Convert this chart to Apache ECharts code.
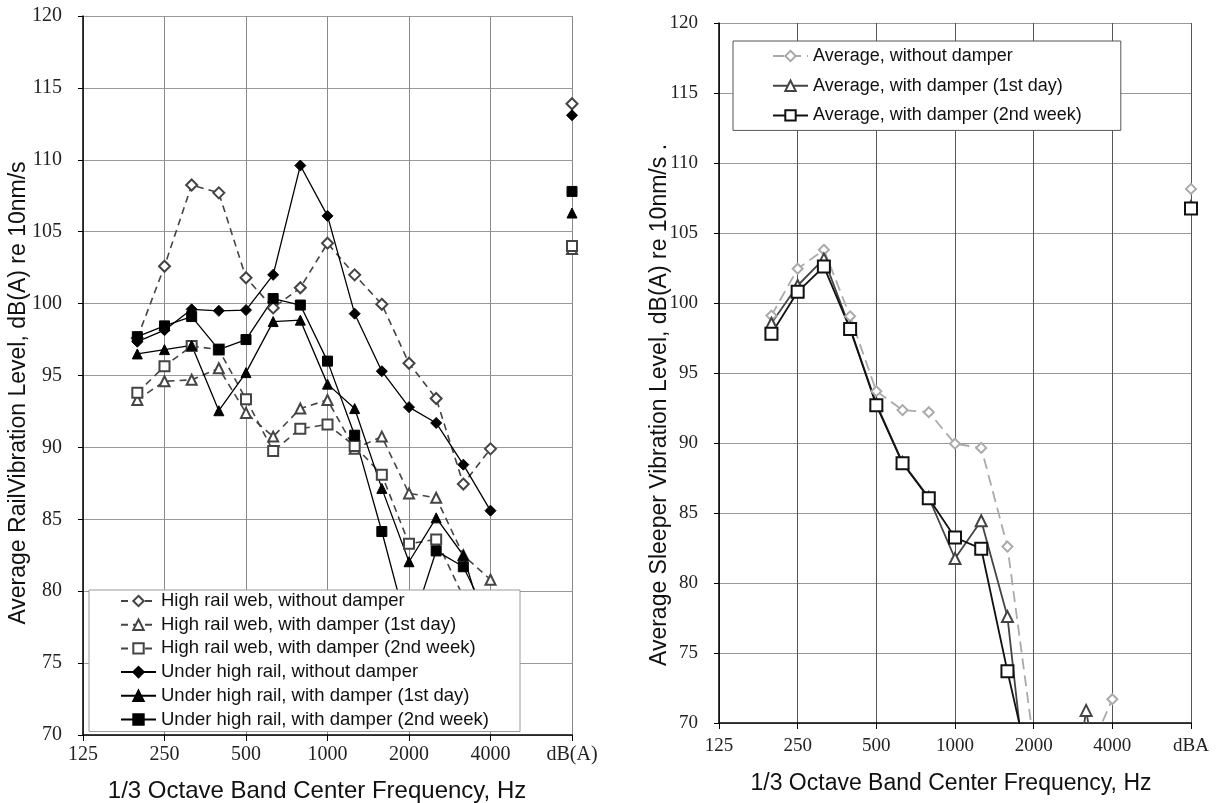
<!DOCTYPE html>
<html>
<head>
<meta charset="utf-8">
<title>Rail and sleeper vibration level</title>
<script src="https://cdn.jsdelivr.net/npm/echarts@6/dist/echarts.min.js"></script>
<style>
  html, body { margin: 0; padding: 0; background: #fff; }
  #chart { width: 1216px; height: 803px; }
</style>
</head>
<body>
<div id="chart"></div>
<script>
// 1/3 octave band centres, last slot holds the overall A-weighted level
const bandsRail = ['125', '160', '200', '250', '315', '400', '500', '630', '800', '1000', '1250', '1600', '2000', '2500', '3150', '4000', '5000', '6300', 'dB(A)']
const bandsSleeper = ['125', '160', '200', '250', '315', '400', '500', '630', '800', '1000', '1250', '1600', '2000', '2500', '3150', '4000', '5000', '6300', 'dBA']

// left panel, rail vibration
const webNoDamper = [null, null, 97.6, 102.6, 108.25, 107.7, 101.8, 99.7, 101.1, 104.2, 102.0, 99.95, 95.85, 93.4, 87.45, 89.9, null, null, 113.9]
const webDay1 = [null, null, 93.3, 94.6, 94.7, 95.5, 92.4, 90.75, 92.7, 93.3, 89.9, 90.75, 86.8, 86.5, 82.5, 80.8, null, null, 103.8]
const webWeek2 = [null, null, 93.8, 95.65, 97.05, 96.8, 93.35, 89.75, 91.3, 91.6, 90.1, 88.1, 83.3, 83.6, 79.6, 78.0, null, null, 104.0]
const underNoDamper = [null, null, 97.35, 98.15, 99.6, 99.5, 99.55, 102.0, 109.6, 106.1, 99.3, 95.3, 92.8, 91.7, 88.8, 85.6, null, null, 113.1]
const underDay1 = [null, null, 96.5, 96.8, 97.1, 92.55, 95.2, 98.75, 98.85, 94.4, 92.7, 87.15, 82.05, 85.1, 82.5, 76.3, null, null, 106.3]
const underWeek2 = [null, null, 97.7, 98.45, 99.1, 96.8, 97.5, 100.35, 99.9, 96.0, 90.85, 84.15, 77.0, 82.8, 81.7, 77.8, null, null, 107.8]

// right panel, sleeper vibration
const sleeperNoDamper = [null, null, 99.1, 102.45, 103.8, 99.05, 93.7, 92.35, 92.2, 89.95, 89.65, 82.6, 68.6, 66.0, 67.4, 71.7, null, null, 108.15]
const sleeperDay1 = [null, null, 98.55, 101.25, 103.15, 98.2, 92.8, 88.6, 86.1, 81.75, 84.45, 77.6, 60.7, 58.0, 70.9, 60.0, null, null, 106.9]
const sleeperWeek2 = [null, null, 97.8, 100.8, 102.6, 98.15, 92.7, 88.55, 86.05, 83.25, 82.45, 73.7, 65.5, 63.0, 64.0, 63.5, null, null, 106.75]

const railNames = [
  'High rail web, without damper',
  'High rail web, with damper (1st day)',
  'High rail web, with damper (2nd week)',
  'Under high rail, without damper',
  'Under high rail, with damper (1st day)',
  'Under high rail, with damper (2nd week)'
]
const sleeperNames = [
  'Average, without damper',
  'Average, with damper (1st day)',
  'Average, with damper (2nd week)'
]

const sans = '"Liberation Sans", Arial, sans-serif'
const serif = '"Liberation Serif", "Times New Roman", serif'

function xAxisFor (bands, gridIndex, margin) {
  return {
    type: 'category',
    gridIndex: gridIndex,
    data: bands,
    boundaryGap: false,
    axisLine: { lineStyle: { color: '#000', width: 1.5 } },
    axisTick: { show: true, interval: 2, length: 6, lineStyle: { color: '#000' } },
    axisLabel: { interval: 2, margin: margin, fontFamily: serif, fontSize: gridIndex === 0 ? 20 : 19, color: '#222' },
    splitLine: { show: true, interval: 2, lineStyle: { color: gridIndex === 0 ? '#8a8a8a' : '#555', width: 1 } }
  }
}

function yAxisFor (gridIndex) {
  return {
    type: 'value',
    gridIndex: gridIndex,
    min: 70,
    max: 120,
    interval: 5,
    axisLine: { show: true, lineStyle: { color: '#000', width: 1.5 } },
    axisTick: { show: true, length: 5, lineStyle: { color: '#000' } },
    axisLabel: { margin: 21, fontFamily: serif, fontSize: gridIndex === 0 ? 20 : 19, color: '#222' },
    splitLine: { show: true, lineStyle: { color: '#999', width: 1 } }
  }
}

function railLine (name, data, symbol, dashed) {
  const color = dashed ? '#444' : '#000'
  return {
    name: name,
    type: 'line',
    xAxisIndex: 0,
    yAxisIndex: 0,
    data: data,
    symbol: symbol,
    symbolSize: symbol.indexOf('Diamond') >= 0 || symbol === 'diamond' ? 11 : 10,
    color: color,
    lineStyle: { color: color, width: dashed ? 1.6 : 1.3, type: dashed ? [7, 5] : 'solid' },
    itemStyle: { color: color, borderColor: color, borderWidth: dashed ? 1.8 : 1 },
    animation: false
  }
}

function sleeperLine (name, data, symbol, color, dashed, size) {
  return {
    name: name,
    type: 'line',
    xAxisIndex: 1,
    yAxisIndex: 1,
    data: data,
    symbol: symbol,
    symbolSize: size,
    color: color,
    lineStyle: { color: color, width: 1.8, type: dashed ? [11, 6] : 'solid' },
    itemStyle: { color: color, borderColor: color, borderWidth: 2 },
    animation: false
  }
}

const chart = echarts.init(document.getElementById('chart'))

chart.setOption({
  backgroundColor: '#fff',
  animation: false,
  grid: [
    { left: 83, top: 16, width: 489, height: 719 },
    { left: 719, top: 23, width: 472, height: 700 }
  ],
  xAxis: [xAxisFor(bandsRail, 0, 10), xAxisFor(bandsSleeper, 1, 14)],
  yAxis: [yAxisFor(0), yAxisFor(1)],
  legend: [
    {
      data: railNames,
      orient: 'vertical',
      left: 89,
      top: 590,
      itemWidth: 35,
      itemHeight: 13,
      itemGap: 3.7,
      padding: [1, 31, 2, 31],
      selectedMode: false,
      backgroundColor: '#fff',
      borderColor: '#9a9a9a',
      borderWidth: 1,
      textStyle: { fontFamily: sans, fontSize: 18.5, lineHeight: 20, color: '#111' }
    },
    {
      data: sleeperNames,
      orient: 'vertical',
      left: 733,
      top: 41,
      itemWidth: 35,
      itemHeight: 13,
      itemGap: 9.7,
      padding: [5, 39, 5, 39],
      selectedMode: false,
      backgroundColor: '#fff',
      borderColor: '#555',
      borderWidth: 1,
      textStyle: { fontFamily: sans, fontSize: 18, lineHeight: 20, color: '#111' }
    }
  ],
  graphic: [
    {
      type: 'text', x: 19, y: 393, rotation: Math.PI / 2,
      style: { text: 'Average RailVibration Level, dB(A) re 10nm/s', font: '23px ' + sans, fill: '#111', align: 'center', verticalAlign: 'middle' }
    },
    {
      type: 'text', x: 317, y: 791,
      style: { text: '1/3 Octave Band Center Frequency, Hz', font: '24px ' + sans, fill: '#111', align: 'center', verticalAlign: 'middle' }
    },
    {
      type: 'text', x: 660, y: 405, rotation: Math.PI / 2,
      style: { text: 'Average Sleeper Vibration Level, dB(A) re 10nm/s .', font: '23px ' + sans, fill: '#111', align: 'center', verticalAlign: 'middle' }
    },
    {
      type: 'text', x: 951, y: 784,
      style: { text: '1/3 Octave Band Center Frequency, Hz', font: '23px ' + sans, fill: '#111', align: 'center', verticalAlign: 'middle' }
    }
  ],
  series: [
    railLine(railNames[0], webNoDamper, 'emptyDiamond', true),
    railLine(railNames[1], webDay1, 'emptyTriangle', true),
    railLine(railNames[2], webWeek2, 'emptyRect', true),
    railLine(railNames[3], underNoDamper, 'diamond', false),
    railLine(railNames[4], underDay1, 'triangle', false),
    railLine(railNames[5], underWeek2, 'rect', false),
    sleeperLine(sleeperNames[0], sleeperNoDamper, 'emptyDiamond', '#aaaaaa', true, 10),
    sleeperLine(sleeperNames[1], sleeperDay1, 'emptyTriangle', '#444', false, 11),
    sleeperLine(sleeperNames[2], sleeperWeek2, 'emptyRect', '#111', false, 12)
  ]
})
</script>
</body>
</html>
